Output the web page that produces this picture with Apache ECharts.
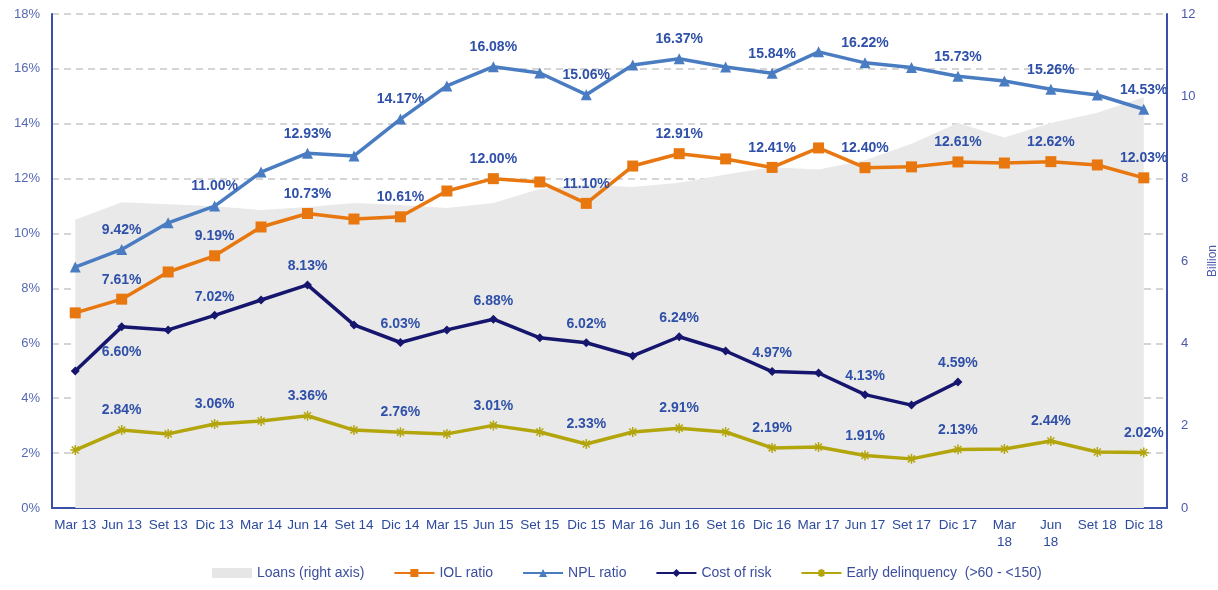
<!DOCTYPE html>
<html>
<head>
    <meta charset="utf-8">
    <title>Asset quality</title>
    <script src="https://cdn.jsdelivr.net/npm/echarts@6/dist/echarts.min.js"></script>
    <style>
        html, body { margin: 0; padding: 0; background: #fff; }
        #chart { width: 1218px; height: 590px; }
    </style>
</head>
<body>
<div id="chart"></div>
<script type="text/javascript">
    // 季度
    var quarters = ['Mar 13', 'Jun 13', 'Set 13', 'Dic 13', 'Mar 14', 'Jun 14', 'Set 14', 'Dic 14',
        'Mar 15', 'Jun 15', 'Set 15', 'Dic 15', 'Mar 16', 'Jun 16', 'Set 16', 'Dic 16',
        'Mar 17', 'Jun 17', 'Set 17', 'Dic 17', 'Mar 18', 'Jun 18', 'Set 18', 'Dic 18'];
    // Loans, billion (right axis)
    var loans = [7.00, 7.43, 7.38, 7.33, 7.24, 7.31, 7.41, 7.36, 7.29, 7.41, 7.75, 7.85,
        7.80, 7.90, 8.10, 8.28, 8.22, 8.45, 8.85, 9.35, 9.00, 9.35, 9.60, 9.98];
    var iolRatio = [7.11, 7.61, 8.60, 9.19, 10.24, 10.73, 10.53, 10.61, 11.55, 12.00, 11.88, 11.10,
        12.46, 12.91, 12.72, 12.41, 13.12, 12.40, 12.43, 12.61, 12.57, 12.62, 12.50, 12.03];
    var nplRatio = [8.78, 9.42, 10.39, 11.00, 12.24, 12.93, 12.83, 14.17, 15.38, 16.08, 15.85, 15.06,
        16.14, 16.37, 16.07, 15.84, 16.62, 16.22, 16.05, 15.73, 15.56, 15.26, 15.05, 14.53];
    var costOfRisk = [4.99, 6.60, 6.49, 7.02, 7.58, 8.13, 6.67, 6.03, 6.49, 6.88, 6.20, 6.02,
        5.54, 6.24, 5.72, 4.97, 4.92, 4.13, 3.75, 4.59, null, null, null, null];
    var earlyDelinq = [2.11, 2.84, 2.70, 3.06, 3.17, 3.36, 2.84, 2.76, 2.70, 3.01, 2.77, 2.33,
        2.77, 2.91, 2.77, 2.19, 2.22, 1.91, 1.79, 2.13, 2.15, 2.44, 2.04, 2.02];
    var leftTicks = [0, 2, 4, 6, 8, 10, 12, 14, 16, 18];
    var rightTicks = [0, 2, 4, 6, 8, 10, 12];

    var labelBlue = '#2f50a8';
    var axisBlue = '#3a4fa6';

    // 只在 Jun/Dic 季度显示标签
    function pctLabel() {
        return {
            show: true,
            position: 'top',
            distance: 7,
            color: labelBlue,
            fontFamily: 'Liberation Sans, Arial',
            fontWeight: 'bold',
            fontSize: 14,
            formatter: function (p) {
                if (p.dataIndex % 2 === 0 || p.value == null) return '';
                return p.value.toFixed(2) + '%';
            }
        };
    }

    var starPath = 'path://M0,5L10,5M5,0L5,10M1.5,1.5L8.5,8.5M8.5,1.5L1.5,8.5';

    var myChart = echarts.init(document.getElementById('chart'));
    myChart.setOption({
        animation: false,
        textStyle: { fontFamily: 'Liberation Sans, Arial' },
        grid: { left: 52, right: 51, top: 14, bottom: 82, containLabel: false, outerBoundsMode: 'none' },
        legend: {
            bottom: 5,
            left: 207,
            itemGap: 29,
            itemWidth: 40,
            itemHeight: 10,
            textStyle: { color: '#3c4f9e', fontSize: 14 },
            data: [
                { name: 'Loans (right axis)', icon: 'rect' },
                'IOL ratio', 'NPL ratio', 'Cost of risk', 'Early delinquency  (>60 - <150)'
            ]
        },
        xAxis: {
            type: 'category',
            data: quarters,
            boundaryGap: true,
            axisLine: { lineStyle: { color: axisBlue, width: 2 } },
            axisTick: { show: false },
            axisLabel: {
                color: '#2d4b9c',
                fontSize: 13.5,
                interval: 0,
                margin: 9,
                lineHeight: 17,
                formatter: function (v, i) {
                    if (i === 20 || i === 21) return v.replace(' ', '\n');
                    return v;
                }
            }
        },
        yAxis: [
            {
                type: 'value',
                min: leftTicks[0],
                max: leftTicks[leftTicks.length - 1],
                interval: 2,
                axisLine: { show: true, lineStyle: { color: axisBlue, width: 2 } },
                axisTick: { show: false },
                axisLabel: { color: '#5569b3', fontSize: 13, margin: 12, formatter: '{value}%' },
                splitLine: { lineStyle: { color: '#c8c8c8', type: [7, 5], width: 1.5 } }
            },
            {
                type: 'value',
                min: rightTicks[0],
                max: rightTicks[rightTicks.length - 1],
                interval: 2,
                name: 'Billion',
                nameLocation: 'middle',
                nameRotate: 90,
                nameGap: 33,
                nameTextStyle: { color: '#4a5aaa', fontSize: 12 },
                axisLine: { show: true, lineStyle: { color: axisBlue, width: 2 } },
                axisTick: { show: false },
                axisLabel: { color: '#4a5aaa', fontSize: 13, margin: 14 },
                splitLine: { show: false }
            }
        ],
        series: [
            {
                name: 'Loans (right axis)',
                type: 'line',
                yAxisIndex: 1,
                data: loans,
                symbol: 'none',
                lineStyle: { width: 0 },
                itemStyle: { color: '#e6e6e6' },
                areaStyle: { color: '#e9e9e9', opacity: 1 },
                z: 1
            },
            {
                name: 'IOL ratio',
                type: 'line',
                data: iolRatio,
                symbol: 'rect',
                symbolSize: 11,
                itemStyle: { color: '#e8770f' },
                lineStyle: { width: 3.5, color: '#e8770f' },
                label: pctLabel(),
                z: 4
            },
            {
                name: 'NPL ratio',
                type: 'line',
                data: nplRatio,
                symbol: 'triangle',
                symbolSize: 11,
                itemStyle: { color: '#4a7cc2' },
                lineStyle: { width: 3.5, color: '#4a7cc2' },
                label: pctLabel(),
                z: 4
            },
            {
                name: 'Cost of risk',
                type: 'line',
                data: costOfRisk,
                symbol: 'diamond',
                symbolSize: 9,
                itemStyle: { color: '#16166e' },
                lineStyle: { width: 3.5, color: '#16166e' },
                label: pctLabel(),
                labelLayout: function (p) {
                    // Jun 13 的标签在线下方
                    if (p.dataIndex === 1) {
                        return { dy: 44 };
                    }
                    return {};
                },
                z: 4
            },
            {
                name: 'Early delinquency  (>60 - <150)',
                type: 'line',
                data: earlyDelinq,
                symbol: starPath,
                symbolSize: 10,
                itemStyle: { color: '#b3a50c', borderColor: '#b3a50c', borderWidth: 1.5 },
                lineStyle: { width: 3.5, color: '#b3a50c' },
                label: pctLabel(),
                z: 4
            }
        ]
    });
</script>
</body>
</html>
